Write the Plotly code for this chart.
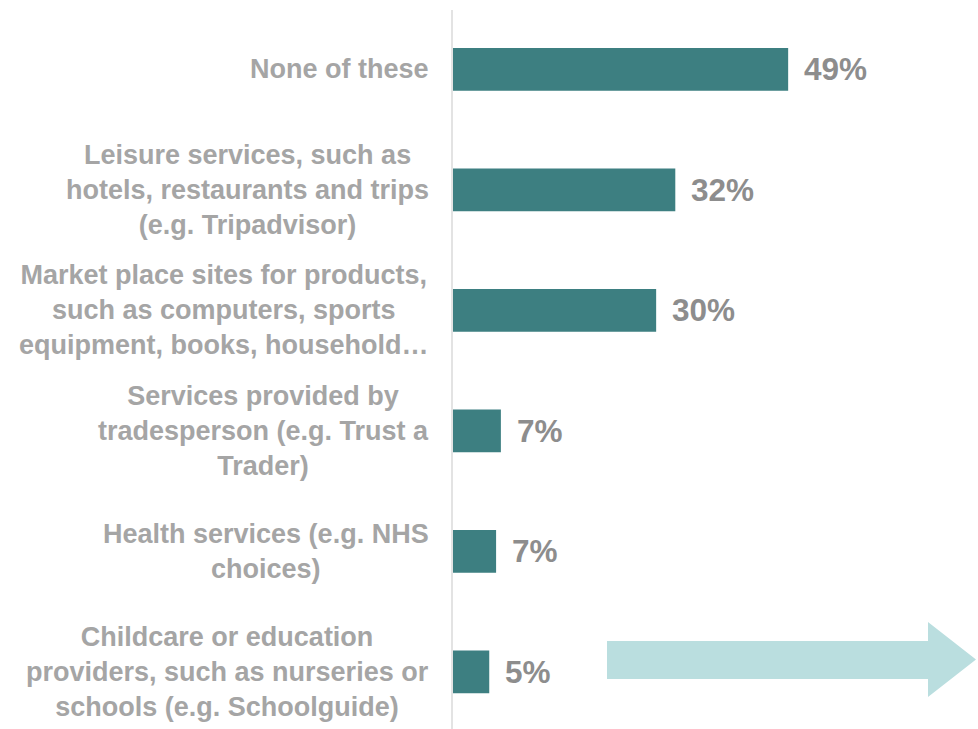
import plotly.graph_objects as go

categories = [
    "None of these",
    "Leisure services, such as<br>hotels, restaurants and trips<br>(e.g. Tripadvisor)",
    "Market place sites for products,<br>such as computers, sports<br>equipment, books, household…",
    "Services provided by<br>tradesperson (e.g. Trust a<br>Trader)",
    "Health services (e.g. NHS<br>choices)",
    "Childcare or education<br>providers, such as nurseries or<br>schools (e.g. Schoolguide)",
]
values = [49.0, 32.5, 29.7, 7.0, 6.3, 5.3]
value_labels = ["49%", "32%", "30%", "7%", "7%", "5%"]

W, H = 978, 729
L, R, T, B = 453, 0, 10, 0
PW, PH = W - L - R, H - T - B

BAR = "#3D7F81"
TXT = "#8D8D8D"
CAT = "#A5A5A5"
FONT = "Arial, 'Liberation Sans', sans-serif"

idx = list(range(len(categories)))

fig = go.Figure()
fig.add_trace(go.Bar(
    y=idx, x=values, orientation="h",
    marker=dict(color=BAR, line=dict(width=0)),
    width=0.355, hoverinfo="skip",
))

annotations = []
for i, (v, lab) in enumerate(zip(values, value_labels)):
    annotations.append(dict(
        x=v, y=i, xref="x", yref="y", text=f"<b>{lab}</b>",
        showarrow=False, xanchor="left", yanchor="middle", xshift=14,
        font=dict(family=FONT, size=31.5, color=TXT),
    ))
for i, c in enumerate(categories):
    annotations.append(dict(
        x=0, y=i, xref="paper", yref="y", text=f"<b>{c}</b>",
        showarrow=False, xanchor="right", yanchor="middle", xshift=-22,
        align="center",
        font=dict(family=FONT, size=27, color=CAT),
    ))

def px(xp):
    return (xp - L) / PW

def py(yp):
    return 1 - (yp - T) / PH

arrow_pts = [(607, 641), (928, 641), (928, 622), (976, 659.5), (928, 697), (928, 679), (607, 679)]
path = "M " + " L ".join(f"{px(x):.5f},{py(y):.5f}" for x, y in arrow_pts) + " Z"

fig.update_layout(
    width=W, height=H,
    margin=dict(l=L, r=R, t=T, b=B, pad=0),
    paper_bgcolor="white", plot_bgcolor="white",
    showlegend=False,
    xaxis=dict(range=[0, PW / 6.84], visible=False, fixedrange=True),
    yaxis=dict(range=[5.475, -0.492], showticklabels=False, showgrid=False,
               zeroline=False, showline=True, linecolor="#E3E3E3", linewidth=2,
               ticks="", fixedrange=True),
    annotations=annotations,
    shapes=[dict(type="path", path=path, xref="paper", yref="paper",
                 fillcolor="#BADEDF", line=dict(width=0), layer="above")],
)

fig.write_html("out.html", config={"displayModeBar": False},
               post_script="document.body.style.margin='0px';")
